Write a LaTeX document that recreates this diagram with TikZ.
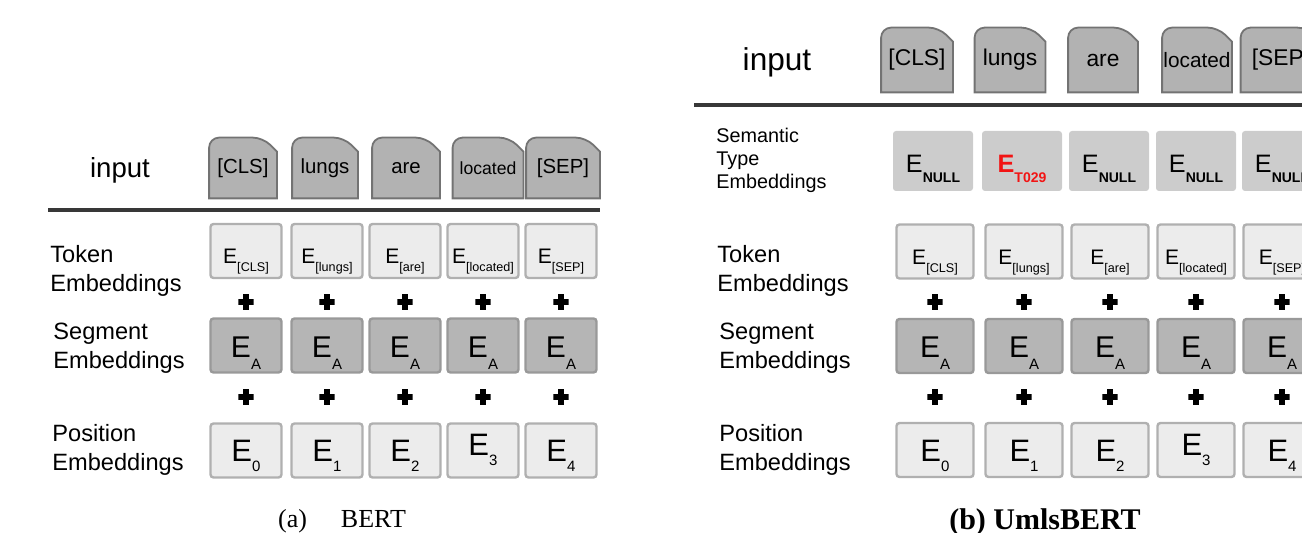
\documentclass[tikz,border=0pt]{standalone}
\usepackage{fontspec}
\setmainfont{Liberation Sans}
\newfontfamily\capfont{Liberation Serif}
\usetikzlibrary{positioning,backgrounds}
\definecolor{typered}{HTML}{F21414}
\newcommand{\fsz}[1]{\fontsize{#1}{#1}\selectfont}
\newcommand{\Esub}[3]{E\raisebox{-#2}{\fsz{#1}#3}}
\tikzstyle{tabtext}=[inner sep=0pt]
\tikzstyle{tab}=[fill=gray!60,draw=black!55,line width=0.9pt]
\tikzstyle{rule}=[line width=2pt,black!78]
\tikzstyle{lbl}=[anchor=west,align=left,inner sep=0pt,font=\fontsize{11.8}{14.5}\selectfont]
\tikzstyle{box}=[rectangle,minimum height=27pt,inner sep=0pt,text depth=0pt,
                rounded corners=1.5pt,line width=1.2pt]
\tikzstyle{tokbox}=[box,draw=gray!62,fill=gray!15,text height=13pt,font=\fsz{10.5}]
\tikzstyle{segbox}=[box,draw=gray!80,fill=gray!58,text height=12pt,font=\fsz{15}]
\tikzstyle{posbox}=[box,draw=gray!62,fill=gray!15,text height=11.5pt,font=\fsz{15.5}]
\tikzstyle{sembox}=[box,fill=gray!40,minimum height=30pt,minimum width=40pt,
                text height=11.7pt,font=\fsz{12.6}]
\tikzstyle{plus}=[minimum size=7.6pt,inner sep=0pt,path picture={
  \draw[line width=2.8pt] (path picture bounding box.north) -- (path picture bounding box.south)
  (path picture bounding box.west) -- (path picture bounding box.east);}]

\begin{document}
\begin{tikzpicture}[x=0.5pt,y=-0.5pt]
\useasboundingbox (0,0) rectangle (1302,533);
\clip (0,0) rectangle (1302,533);

% (a) BERT
\node[font=\fsz{13.8}] (inA) at (120,170) {input};
\foreach \c/\w/\t [count=\i] in {243/67/{[CLS]},325/65/lungs,406/67/are,
  488/70/{\fsz{8.8}located},563/73/{[SEP]}}
{
  \node[tabtext,font=\fsz{10.2},minimum width=\w*0.5pt,minimum height=30pt] (tabA\i) at (\c,168) {\t};
  \begin{pgfonlayer}{background}
  \draw[tab] (tabA\i.south west) [rounded corners=5pt] -- (tabA\i.north west)
    -- ([xshift=-7pt]tabA\i.north east) [sharp corners] -- ([yshift=-7pt]tabA\i.north east)
    -- (tabA\i.south east) -- cycle;
  \end{pgfonlayer}
}
\draw[rule] (48,210) -- (600,210);

\node[lbl] (tokLA) at (50,270.5) {Token\\Embeddings};
\node[lbl] (segLA) at (53,348) {Segment\\Embeddings};
\node[lbl] (posLA) at (52,450) {Position\\Embeddings};
\foreach \c/\s [count=\i] in {246/{[CLS]},327/{[lungs]},405/{[are]},483/{[located]},561/{[SEP]}}
{
  \node[tokbox,minimum width=35.5pt] (tokA\i) at (\c,251) {\Esub{6.3}{4pt}{\s}};
  \node[plus] (pA\i) at (\c,302) {};
  \node[segbox,minimum width=35.5pt] (segA\i) at (\c,345.5) {\Esub{7.5}{6pt}{A}};
  \node[plus] (qA\i) at (\c,397) {};
}
\foreach \c/\r [count=\i from 0] in {246/0pt,327/0pt,405/0pt,483/3pt,561/0pt}
  \node[posbox,minimum width=35.5pt] (posA\i) at (\c,450.5) {\raisebox{\r}{\Esub{7.5}{5pt}{\i}}};
\node[anchor=base,font=\capfont\fsz{13}] (capA) at (342,528) {(a)\hspace{17pt}BERT};

% (b) UmlsBERT
\node[font=\fsz{15.8}] (inB) at (777,62) {input};
\foreach \c/\w/\t [count=\i] in {917/71/{[CLS]},1010/70/lungs,1103/69/are,
  1197/69/{\fsz{10.4}located},1281/80/{[SEP]}}
{
  \node[tabtext,font=\fsz{11.4},minimum width=\w*0.5pt,minimum height=32pt] (tabB\i) at (\c,60) {\t};
  \begin{pgfonlayer}{background}
  \draw[tab] (tabB\i.south west) [rounded corners=5pt] -- (tabB\i.north west)
    -- ([xshift=-7pt]tabB\i.north east) [sharp corners] -- ([yshift=-7pt]tabB\i.north east)
    -- (tabB\i.south east) -- cycle;
  \end{pgfonlayer}
}
\draw[rule] (694,105) -- (1302,105);

\node[lbl,font=\fontsize{9.9}{11.5}\selectfont] (semLB) at (716,160) {Semantic\\Type\\Embeddings};
\node[lbl] (tokLB) at (717,270.5) {Token\\Embeddings};
\node[lbl] (segLB) at (719,348) {Segment\\Embeddings};
\node[lbl] (posLB) at (719,450) {Position\\Embeddings};
\foreach \c/\s [count=\i] in {933/{\Esub{7}{5pt}{\bfseries NULL}},
  1022/{\color{typered}\bfseries\Esub{7}{5pt}{T029}},1109/{\Esub{7}{5pt}{\bfseries NULL}},
  1196/{\Esub{7}{5pt}{\bfseries NULL}},1282/{\Esub{7}{5pt}{\bfseries NULL}}}
  \node[sembox] (semB\i) at (\c,161) {\s};
\foreach \c/\s [count=\i] in {935/{[CLS]},1024/{[lungs]},1110/{[are]},1196/{[located]},1282/{[SEP]}}
{
  \node[tokbox,minimum width=38.5pt] (tokB\i) at (\c,251.5) {\Esub{6.3}{4pt}{\s}};
  \node[plus] (pB\i) at (\c,302) {};
  \node[segbox,minimum width=38.5pt] (segB\i) at (\c,346) {\Esub{7.5}{6pt}{A}};
  \node[plus] (qB\i) at (\c,397) {};
}
\foreach \c/\r [count=\i from 0] in {935/0pt,1024/0pt,1110/0pt,1196/3pt,1282/0pt}
  \node[posbox,minimum width=38.5pt] (posB\i) at (\c,450) {\raisebox{\r}{\Esub{7.5}{5pt}{\i}}};
\node[anchor=base,font=\capfont\bfseries\fsz{15}] (capB) at (1045,530) {(b) UmlsBERT};
\end{tikzpicture}
\end{document}
